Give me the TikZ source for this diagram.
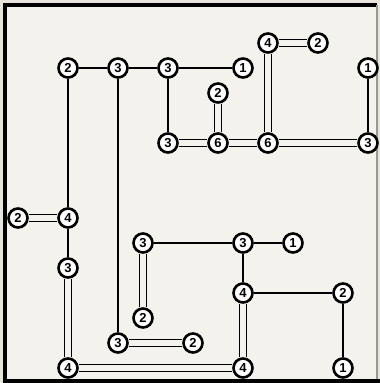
\documentclass[tikz,border=0pt]{standalone}
\usepackage{fontspec}
\setmainfont{Liberation Sans}
\usepackage{xcolor}
\definecolor{board}{HTML}{F4F2EC}
\definecolor{rim}{HTML}{E6E4DC}
\definecolor{edge}{HTML}{9A9890}

\begin{document}
\begin{tikzpicture}[x=1pt,y=-1pt,
  isle/.style={circle, draw, line width=2.6pt, fill=white, inner sep=0pt, minimum size=19pt, font=\bfseries\fontsize{13}{13}\selectfont},
  one/.style={line width=1.5pt},
  two/.style={line width=1.6pt, double=board, double distance=5.4pt}]
\useasboundingbox (0,0) rectangle (380,383);
\fill [rim] (0,0) rectangle (380,383);
\fill [board] (5,5) rectangle (377,381);
\draw [line width=4pt] (5,381) -- (5,5) -- (377,5);
\draw [line width=4pt] (3,381) -- (380,381);
\draw [edge, line width=1.5pt] (377,5) -- (377,379);

\foreach \c/\r/\v in {2/2/2, 4/2/3, 6/2/3, 9/2/1, 10/1/4, 12/1/2, 14/2/1,
  8/3/2, 6/5/3, 8/5/6, 10/5/6, 14/5/3,
  0/8/2, 2/8/4, 2/10/3, 5/9/3, 9/9/3, 11/9/1,
  9/11/4, 13/11/2, 5/12/2, 4/13/3, 7/13/2,
  2/14/4, 9/14/4, 13/14/1}
{
\node [isle] (n\c-\r) at ({18+25*\c},{18+25*\r}) {\v};
}

\foreach \a/\b in {2-2/4-2, 4-2/6-2, 6-2/9-2, 6-2/6-5, 2-2/2-8, 4-2/4-13,
  14-2/14-5, 2-8/2-10, 5-9/9-9, 9-9/11-9, 9-9/9-11, 9-11/13-11, 13-11/13-14}
\draw [one] (n\a) -- (n\b);

\foreach \a/\b in {10-1/12-1, 10-1/10-5, 8-3/8-5, 6-5/8-5, 8-5/10-5, 10-5/14-5,
  0-8/2-8, 2-10/2-14, 5-9/5-12, 4-13/7-13, 2-14/9-14, 9-11/9-14}
\draw [two] (n\a) -- (n\b);
\end{tikzpicture}
\end{document}
